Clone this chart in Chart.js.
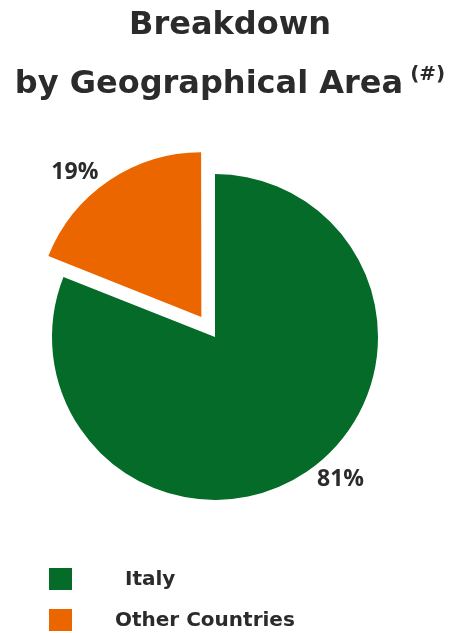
<!DOCTYPE html>
<html>
<head>
<meta charset="utf-8">
<script src="https://cdn.jsdelivr.net/npm/chart.js@4.4.0/dist/chart.umd.min.js"></script>
<style>
  html, body { margin: 0; padding: 0; background: #fff; }
  #wrap { width: 460px; height: 633px; position: relative; }
</style>
</head>
<body>
<div id="wrap"><canvas id="myChart"></canvas></div>
<script>
// Areas and their share of the total (%)
const areas = ["Italy", "Other Countries"];
const shares = [81, 19];
const areaColors = ["#046b28", "#ec6600"];
const titleLines = ["Breakdown", "by Geographical Area"];
const titleNote = "(#)";

const textColor = "#2b2b2b";

// Title drawn by hand so the "(#)" note can sit raised after line two
const titlePlugin = {
  id: "titleText",
  afterDraw(chart) {
    const c = chart.ctx;
    const w = chart.width;
    c.save();
    c.fillStyle = textColor;
    c.textBaseline = "alphabetic";
    c.font = "bold 32px 'DejaVu Sans'";
    c.textAlign = "center";
    c.fillText(titleLines[0], w / 2, 34);

    const mainW = c.measureText(titleLines[1]).width;
    c.font = "bold 20px 'DejaVu Sans'";
    const noteW = c.measureText(titleNote).width;
    const gap = 7;
    const x0 = (w - mainW - gap - noteW) / 2;
    c.textAlign = "left";
    c.font = "bold 32px 'DejaVu Sans'";
    c.fillText(titleLines[1], x0, 93);
    c.font = "bold 20px 'DejaVu Sans'";
    c.fillText(titleNote, x0 + mainW + gap, 80);
    c.restore();
  }
};

// Percent labels outside each slice
const sliceLabels = {
  id: "sliceLabels",
  afterDatasetsDraw(chart) {
    const c = chart.ctx;
    const meta = chart.getDatasetMeta(0);
    c.save();
    c.fillStyle = textColor;
    c.font = "bold 23px 'Open Sans', sans-serif";
    c.textAlign = "center";
    c.textBaseline = "middle";
    meta.data.forEach((arc, i) => {
      const p = arc.getProps(["x", "y", "startAngle", "endAngle", "outerRadius", "circumference"], true);
      const mid = (p.startAngle + p.endAngle) / 2;
      // same shift the arc gets from its offset
      const off = (arc.options.offset || 0) / 4;
      const fix = 1 - Math.sin(Math.min(Math.PI, p.circumference || 0));
      const shift = off * (1 + fix);
      const cx = p.x + Math.cos(mid) * shift;
      const cy = p.y + Math.sin(mid) * shift;
      const a = mid - 0.125;
      const r = p.outerRadius + 27;
      c.fillText(shares[i] + "%", cx + Math.cos(a) * r, cy + Math.sin(a) * r);
    });
    c.restore();
  }
};

// Legend as a plain vertical list under the pie
const legendIndent = [10, 0];
const listLegend = {
  id: "listLegend",
  afterDraw(chart) {
    const c = chart.ctx;
    c.save();
    c.font = "bold 20px 'DejaVu Sans'";
    c.textAlign = "left";
    c.textBaseline = "middle";
    areas.forEach((name, i) => {
      const y = 568 + i * 41;
      c.fillStyle = areaColors[i];
      c.fillRect(49, y, 23, 22);
      c.fillStyle = textColor;
      c.fillText(name, 115 + legendIndent[i], y + 12);
    });
    c.restore();
  }
};

const ctx = document.getElementById("myChart").getContext("2d");

const chart = new Chart(ctx, {
  type: "pie",
  data: {
    labels: areas,
    datasets: [{
      data: shares,
      backgroundColor: areaColors,
      borderWidth: 0,
      offset: [0, 97],
      radius: 163
    }]
  },
  options: {
    responsive: true,
    maintainAspectRatio: false,
    animation: false,
    events: [],
    layout: { padding: { left: 20, right: 50, top: 150, bottom: 109 } },
    plugins: {
      legend: { display: false },
      tooltip: { enabled: false }
    }
  },
  plugins: [titlePlugin, sliceLabels, listLegend]
});
</script>
</body>
</html>
